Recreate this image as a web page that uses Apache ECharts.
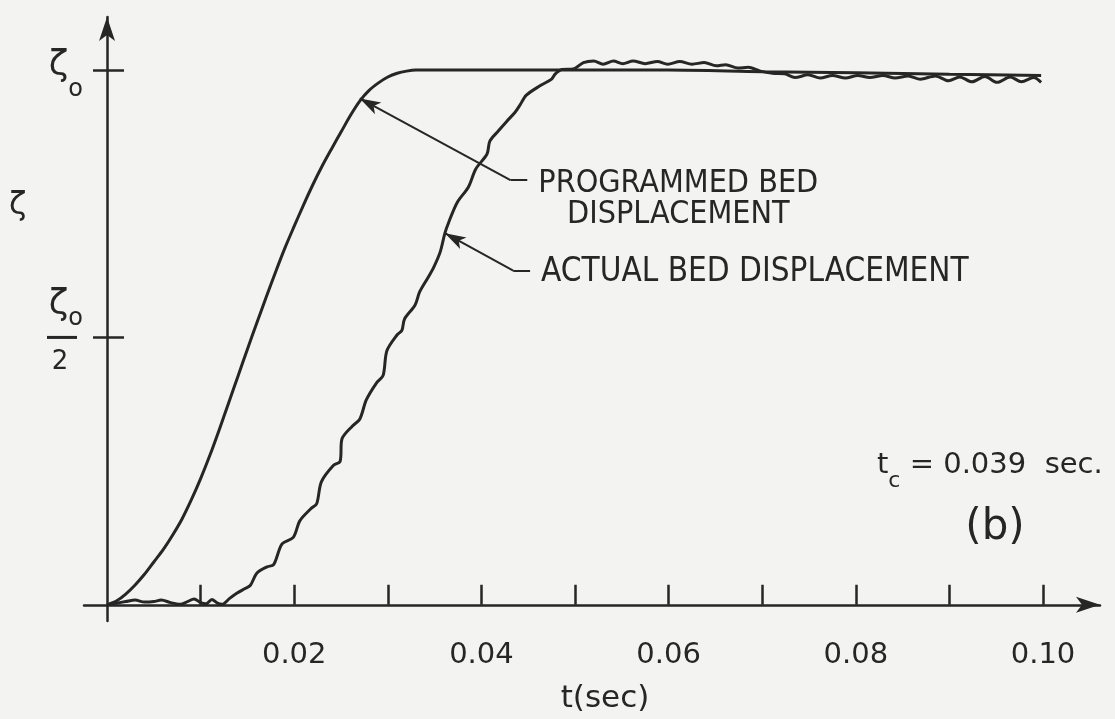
<!DOCTYPE html>
<html>
<head>
<meta charset="utf-8">
<script src="https://cdn.jsdelivr.net/npm/echarts@6/dist/echarts.min.js"></script>
<style>
  html, body { margin: 0; padding: 0; background: #f3f3f1; }
  #chart { width: 1115px; height: 719px; }
</style>
</head>
<body>
<div id="chart"></div>
<script>
// Programmed bed displacement, time t (sec) and ζ / ζ0
const programmedT = [0, 0.001, 0.002, 0.003, 0.004, 0.005, 0.006, 0.007, 0.008, 0.009,
  0.010, 0.011, 0.012, 0.013, 0.014, 0.015, 0.016, 0.017, 0.018, 0.019,
  0.020, 0.021, 0.022, 0.023, 0.024, 0.025, 0.026, 0.027, 0.028, 0.029,
  0.030, 0.031, 0.032, 0.033, 0.035, 0.040, 0.050, 0.060, 0.070, 0.080, 0.090, 0.0998];
const programmedZeta = [0, 0.007, 0.020, 0.037, 0.057, 0.080, 0.103, 0.130, 0.160, 0.196,
  0.236, 0.280, 0.328, 0.378, 0.428, 0.478, 0.527, 0.575, 0.622, 0.667,
  0.708, 0.748, 0.786, 0.821, 0.853, 0.884, 0.915, 0.942, 0.962, 0.976,
  0.987, 0.994, 0.998, 1.0, 1.0, 1.0, 1.0, 1.0, 0.997, 0.995, 0.992, 0.990];

// Measured (actual) bed displacement
const actualT = [0, 0.0010, 0.0020, 0.0030, 0.0040, 0.0050, 0.0058, 0.0068, 0.0078, 0.0086,
  0.0093, 0.0100, 0.0106, 0.0112, 0.0118, 0.0123, 0.0131, 0.0139, 0.0147, 0.0153,
  0.0160, 0.0171, 0.0178, 0.0187, 0.0199, 0.0206, 0.0218, 0.0224, 0.0229, 0.0242,
  0.0249, 0.0251, 0.0262, 0.0270, 0.0277, 0.0288, 0.0295, 0.0299, 0.0310, 0.0315,
  0.0318, 0.0329, 0.0334, 0.0343, 0.0349, 0.0356, 0.0361, 0.0365, 0.0374, 0.0386,
  0.0394, 0.0406, 0.0409, 0.0418, 0.0427, 0.0436, 0.0441, 0.0448, 0.0463, 0.0475,
  0.0479, 0.0486, 0.0498, 0.0509, 0.0520, 0.0530, 0.0541, 0.0551, 0.0562, 0.0575,
  0.0588, 0.0599, 0.0612, 0.0625, 0.0638, 0.0651, 0.0661, 0.0674, 0.0685, 0.0698,
  0.0711, 0.0724, 0.0735, 0.0749, 0.0762, 0.0775, 0.0789, 0.0802, 0.0815, 0.0829,
  0.0842, 0.0856, 0.0869, 0.0885, 0.0899, 0.0911, 0.0924, 0.0938, 0.0951, 0.0965,
  0.0977, 0.0990, 0.0998];
const actualZeta = [0, 0.003, 0.006, 0.009, 0.005, 0.006, 0.009, 0.004, 0.001, 0.006,
  0.011, 0.004, 0.002, 0.010, 0.003, 0.001, 0.012, 0.022, 0.030, 0.036,
  0.059, 0.071, 0.075, 0.114, 0.126, 0.157, 0.180, 0.189, 0.230, 0.261,
  0.268, 0.310, 0.334, 0.347, 0.383, 0.415, 0.429, 0.475, 0.505, 0.513,
  0.535, 0.560, 0.585, 0.612, 0.631, 0.660, 0.695, 0.715, 0.752, 0.781,
  0.815, 0.843, 0.867, 0.886, 0.904, 0.921, 0.934, 0.953, 0.971, 0.983,
  0.993, 1.001, 1.002, 1.014, 1.017, 1.011, 1.017, 1.012, 1.017, 1.012,
  1.016, 1.011, 1.016, 1.011, 1.014, 1.008, 1.010, 1.004, 1.005, 0.998,
  0.994, 0.993, 0.986, 0.991, 0.985, 0.990, 0.985, 0.990, 0.986, 0.990,
  0.985, 0.989, 0.983, 0.989, 0.980, 0.987, 0.978, 0.988, 0.977, 0.987,
  0.978, 0.986, 0.977];

// Axis ticks and labels
const timeTicks = [0.01, 0.02, 0.03, 0.04, 0.05, 0.06, 0.07, 0.08, 0.09, 0.10];
const timeLabels = [0.02, 0.04, 0.06, 0.08, 0.10];
const zetaTicks = [0.5, 1];

// Leader lines for the two callouts: arrow tip, elbow, end of the short horizontal run (t, ζ)
const programmedLeader = [[0.0270, 0.947], [0.0431, 0.794], [0.0449, 0.794]];
const actualLeader = [[0.0361, 0.695], [0.0434, 0.625], [0.0452, 0.625]];

const INK = '#262626';
const FONT = 'DejaVu Sans';
const NARROW = '"DejaVu Sans Condensed", "DejaVu Sans"';

const zip = (xs, ys) => xs.map((x, i) => [x, ys[i]]);

function leaderLines(pts) {
  return [
    [{ coord: pts[0], symbol: 'arrow', symbolSize: [10, 21] }, { coord: pts[1], symbol: 'none' }],
    [{ coord: pts[1], symbol: 'none' }, { coord: pts[2], symbol: 'none' }]
  ];
}

const chart = echarts.init(document.getElementById('chart'), null, { renderer: 'canvas' });

// ζ0 and ζ0/2 tick labels: paddings set the vertical placement of each piece
const yLabelRich = {
  z1: { fontFamily: FONT, fontSize: 36, padding: [10, 0, 18, 0], color: INK },
  s1: { fontFamily: FONT, fontSize: 24, padding: [0, 0, 0, 0], verticalAlign: 'bottom', color: INK },
  z: { fontFamily: FONT, fontSize: 36, padding: [3, 0, 13, 4], align: 'left', color: INK },
  s: { fontFamily: FONT, fontSize: 24, padding: [0, 0, 5, 0], verticalAlign: 'bottom', align: 'left', color: INK },
  bar: { width: 30, height: 3, backgroundColor: INK },
  gap: { width: 6, height: 3 },
  d: { fontFamily: FONT, fontSize: 26, padding: [10, 0, 16, 7], align: 'left', color: INK }
};

const option = {
  backgroundColor: '#f3f3f1',
  animation: false,
  grid: { left: 84, right: 15, top: 17, bottom: 87, containLabel: false },
  xAxis: [{
    type: 'value',
    min: -0.00246,
    max: 0.10609,
    axisLine: { show: true, onZero: true, symbol: ['none', 'arrow'], symbolSize: [12, 24],
      lineStyle: { color: INK, width: 2.5 } },
    axisTick: { show: true, inside: true, length: 20, customValues: timeTicks,
      lineStyle: { color: INK, width: 2.5 } },
    axisLabel: { show: true, customValues: timeLabels, margin: 20,
      formatter: v => v.toFixed(2), color: INK, fontFamily: FONT, fontSize: 29 },
    splitLine: { show: false },
    name: 't(sec)',
    nameLocation: 'middle',
    nameGap: 62,
    nameTextStyle: { color: INK, fontFamily: FONT, fontSize: 31, padding: [0, 0, 0, 26] }
  }],
  yAxis: [{
    type: 'value',
    position: 'left',
    min: -0.0303,
    max: 1.0992,
    axisLine: { show: true, onZero: true, onZeroAxisIndex: 0, symbol: ['none', 'arrow'], symbolSize: [12, 24],
      lineStyle: { color: INK, width: 2.5 } },
    axisTick: { show: true, inside: true, length: 17, customValues: zetaTicks,
      lineStyle: { color: INK, width: 2.5 } },
    axisLabel: { show: true, customValues: zetaTicks, margin: 1,
      formatter: v => v === 1 ? '{z1|ζ}{s1|o}' : '{z|ζ}{s|o}\n{bar|}{gap|}\n{d|2}',
      rich: yLabelRich },
    splitLine: { show: false }
  }, {
    type: 'value',
    position: 'left',
    min: -0.0303,
    max: 1.0992,
    axisLine: { show: false, onZero: true, onZeroAxisIndex: 0 },
    axisTick: { show: true, inside: false, length: 14, customValues: zetaTicks,
      lineStyle: { color: INK, width: 2.5 } },
    axisLabel: { show: false },
    splitLine: { show: false }
  }],
  series: [{
    name: 'Programmed bed displacement',
    type: 'line',
    data: zip(programmedT, programmedZeta),
    showSymbol: false,
    smooth: 0.3,
    clip: false,
    lineStyle: { color: INK, width: 3 },
    markLine: {
      silent: true,
      label: { show: false },
      lineStyle: { color: INK, width: 2, type: 'solid' },
      data: leaderLines(programmedLeader)
    }
  }, {
    name: 'Actual bed displacement',
    type: 'line',
    data: zip(actualT, actualZeta),
    showSymbol: false,
    smooth: 0.3,
    clip: false,
    lineStyle: { color: INK, width: 3 },
    markLine: {
      silent: true,
      label: { show: false },
      lineStyle: { color: INK, width: 2, type: 'solid' },
      data: leaderLines(actualLeader)
    }
  }]
};

chart.setOption(option);

// Callout texts sit just past the end of each leader
const pEnd = chart.convertToPixel({ xAxisIndex: 0, yAxisIndex: 0 }, programmedLeader[2]);
const aEnd = chart.convertToPixel({ xAxisIndex: 0, yAxisIndex: 0 }, actualLeader[2]);
const calloutFont = '32px ' + NARROW;
const ctx = document.createElement('canvas').getContext('2d');
ctx.font = calloutFont;
const line1Width = ctx.measureText('PROGRAMMED BED').width;

chart.setOption({
  graphic: [
    { type: 'text', left: 9, top: 190,
      style: { text: 'ζ', font: '32px "' + FONT + '"', fill: INK } },
    { type: 'text', x: pEnd[0] + 11, y: pEnd[1] + 3,
      style: { text: 'PROGRAMMED BED', font: calloutFont, fill: INK, textAlign: 'left', textVerticalAlign: 'middle' } },
    { type: 'text', x: pEnd[0] + 11 + line1Width / 2, y: pEnd[1] + 34,
      style: { text: 'DISPLACEMENT', font: calloutFont, fill: INK, textAlign: 'center', textVerticalAlign: 'middle' } },
    { type: 'text', x: aEnd[0] + 11, y: aEnd[1] + 2,
      style: { text: 'ACTUAL BED DISPLACEMENT', font: '33px ' + NARROW, fill: INK, textAlign: 'left', textVerticalAlign: 'middle' } },
    { type: 'text', x: 877, y: 451,
      style: {
        text: '{t|t}{c|c}{e| = 0.039  sec.}',
        textAlign: 'left', textVerticalAlign: 'top',
        rich: {
          t: { fontFamily: FONT, fontSize: 29, padding: [0, 0, 12, 0], fill: INK },
          c: { fontFamily: FONT, fontSize: 22, verticalAlign: 'bottom', fill: INK },
          e: { fontFamily: FONT, fontSize: 29, padding: [0, 0, 12, 0], fill: INK }
        }
      } },
    { type: 'text', x: 995, y: 528,
      style: { text: '(b)', font: '42px "' + FONT + '"', fill: INK, textAlign: 'center', textVerticalAlign: 'middle' } }
  ]
});
</script>
</body>
</html>
